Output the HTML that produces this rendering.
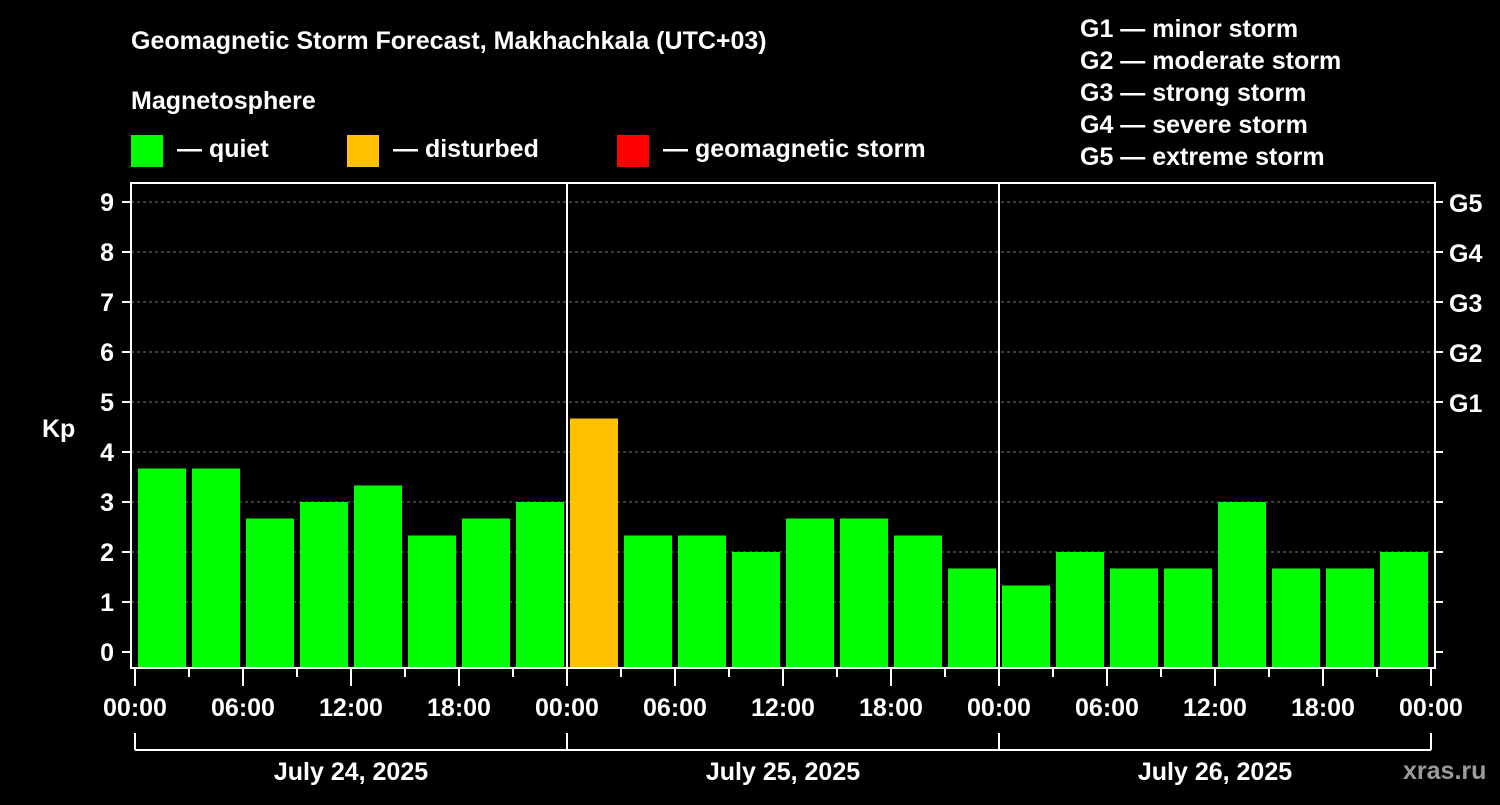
<!DOCTYPE html>
<html><head><meta charset="utf-8"><style>
html,body{margin:0;padding:0;background:#000;}
svg text{font-family:"Liberation Sans",Arial,sans-serif;font-weight:bold;fill:#fff;}
</style></head><body>
<svg id="c" width="1500" height="800" xmlns="http://www.w3.org/2000/svg">
<rect width="1500" height="800" fill="#000"/>
<text x="131" y="49" font-size="25">Geomagnetic Storm Forecast, Makhachkala (UTC+03)</text>
<text x="131" y="109" font-size="25">Magnetosphere</text>
<g><rect x="131" y="135" width="32" height="32" fill="#00ff00"/><text x="177" y="157" font-size="25">— quiet</text></g>
<g><rect x="347" y="135" width="32" height="32" fill="#ffc000"/><text x="393" y="157" font-size="25">— disturbed</text></g>
<g><rect x="617" y="135" width="32" height="32" fill="#ff0000"/><text x="663" y="157" font-size="25">— geomagnetic storm</text></g>
<g font-size="25">
<text x="1080" y="37">G1 — minor storm</text>
<text x="1080" y="69">G2 — moderate storm</text>
<text x="1080" y="101">G3 — strong storm</text>
<text x="1080" y="133">G4 — severe storm</text>
<text x="1080" y="165">G5 — extreme storm</text>
</g>
<text x="42" y="437" font-size="25">Kp</text>
<text x="1403" y="779" font-size="25" fill="#aaa" style="fill:#9a9a9a">xras.ru</text>
<g id="plot"></g>
</svg>
<script>
const values=[3.67,3.67,2.67,3,3.33,2.33,2.67,3, 4.67,2.33,2.33,2,2.67,2.67,2.33,1.67, 1.33,2,1.67,1.67,3,1.67,1.67,2];
const days=["July 24, 2025","July 25, 2025","July 26, 2025"];
const timeLabels=["00:00","06:00","12:00","18:00"];
const yTicks=[0,1,2,3,4,5,6,7,8,9];
const gLabels=[[5,"G1"],[6,"G2"],[7,"G3"],[8,"G4"],[9,"G5"]];
const NS="http://www.w3.org/2000/svg";
const g=document.getElementById('plot');
const L=131,R=1435,T=183,B=668,X0=135,slot=54;
const y=v=>652-v*50;
const x=i=>X0+i*slot;
function el(t,a,p){const e=document.createElementNS(NS,t);for(const k in a)e.setAttribute(k,a[k]);(p||g).appendChild(e);return e;}
yTicks.forEach(v=>{
  if(v>0){const l=el('line',{x1:L,x2:R,y1:y(v),y2:y(v),stroke:'#777','stroke-dasharray':'3,3'});
  
  }
  el('line',{x1:122,x2:L,y1:y(v),y2:y(v),stroke:'#fff','stroke-width':2});
  el('line',{x1:R,x2:R+8,y1:y(v),y2:y(v),stroke:'#fff','stroke-width':2});
  const t=el('text',{x:114,y:y(v)+9,'font-size':25,'text-anchor':'end'});t.textContent=v;
  
  
});
gLabels.forEach(([v,s])=>{const t=el('text',{x:1449,y:y(v)+10,'font-size':25});t.textContent=s;
  
  });
values.forEach((v,i)=>{
  const c=v>=5?'#ff0000':(v>=4?'#ffc000':'#00ff00');
  const r=el('rect',{x:x(i)+3,y:y(v),width:48,height:B-y(v),fill:c});
  
  
});
[1,2].forEach(d=>el('line',{x1:x(d*8),x2:x(d*8),y1:T,y2:B,stroke:'#fff','stroke-width':2}));
el('rect',{x:L,y:T,width:R-L,height:B-T,fill:'none',stroke:'#fff','stroke-width':2});
for(let i=0;i<=24;i++){
  const maj=i%2==0;
  el('line',{x1:x(i),x2:x(i),y1:B,y2:maj?686:677,stroke:'#fff','stroke-width':2});
  if(maj){const t=el('text',{x:x(i),y:716,'font-size':25,'text-anchor':'middle'});t.textContent=timeLabels[(i/2)%4];
  
  }
}
el('line',{x1:x(0),x2:x(24),y1:750,y2:750,stroke:'#fff','stroke-width':2});
for(let d=0;d<=3;d++)el('line',{x1:x(d*8),x2:x(d*8),y1:733,y2:750,stroke:'#fff','stroke-width':2});
days.forEach((s,d)=>{const t=el('text',{x:x(d*8+4),y:780,'font-size':25,'text-anchor':'middle'});t.textContent=s;
  
  });
</script>
</body></html>
